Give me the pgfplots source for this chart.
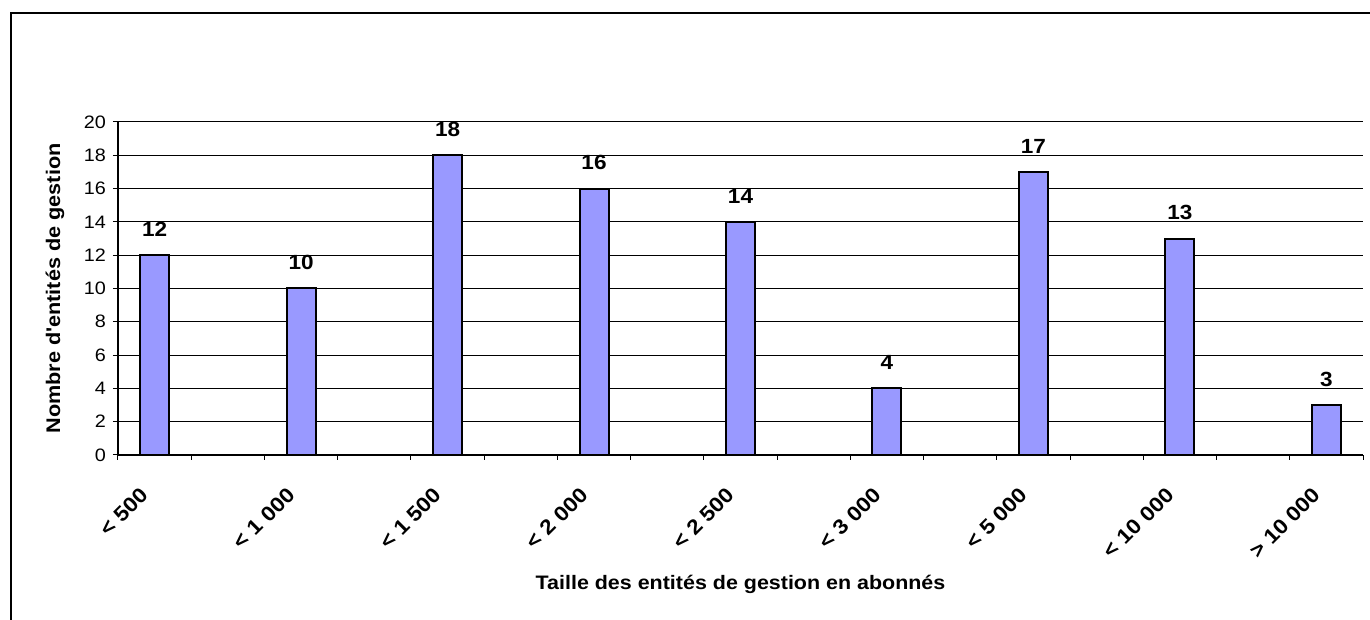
\documentclass[border=0pt]{standalone}
\usepackage{pgfplots}
\pgfplotsset{compat=1.18}
\usepackage{fontspec}
\setmainfont{Liberation Sans}[FakeStretch=1.1]
\definecolor{barblue}{HTML}{9999FF}
\begin{document}
\begin{tikzpicture}[x=1pt,y=1pt]
\useasboundingbox (-59,-82.5) rectangle (626,227.5);
\draw[line width=0.7pt] (-53.5,-100) -- (-53.5,221) -- (700,221);
\begin{axis}[
  at={(0,0)}, anchor=south west,
  width=622.5pt, height=166.5pt, scale only axis,
  xmin=-0.5, xmax=16.5, ymin=0, ymax=20,
  axis x line=bottom, axis y line=left,
  axis line style={-, line width=0.6pt},
  ytick={0,2,...,20},
  ymajorgrids, grid style={black, line width=0.5pt},
  tick align=outside, major tick length=2.5pt,
  tick style={black, line width=0.5pt},
  xtick={-0.5,0.5,...,16.5}, xticklabels={},
  extra x ticks={0,2,...,16},
  extra x tick labels={{< 500},{< 1 000},{< 1 500},{< 2 000},{< 2 500},{< 3 000},{< 5 000},{< 10 000},{> 10 000}},
  extra x tick style={major tick length=0pt, grid=none,
    tick label style={font=\bfseries\fontsize{10.4}{12}\selectfont, xshift=-7.5pt, yshift=-10.5pt, rotate=45, anchor=north east}},
  /pgf/number format/assume math mode=true,
  yticklabel style={font=\fontsize{9}{11}\selectfont},
  ylabel={Nombre d\textquotesingle entités de gestion},
  ylabel style={font=\bfseries\fontsize{9.85}{12}\selectfont, at={(axis description cs:-0.0506,0.5)}, anchor=center},
  xlabel={Taille des entités de gestion en abonnés},
  xlabel style={font=\bfseries\fontsize{9.75}{12}\selectfont, at={(axis description cs:0.5,-0.39)}, anchor=center},
  nodes near coords,
  every node near coord/.append style={font=\bfseries\fontsize{10.25}{12}\selectfont, black, yshift=5.5pt},
]
\addplot[ybar, bar width=14.5pt, fill=barblue, draw=black, line width=1pt]
  coordinates {(0,12) (2,10) (4,18) (6,16) (8,14) (10,4) (12,17) (14,13) (16,3)};
\end{axis}
\end{tikzpicture}
\end{document}
